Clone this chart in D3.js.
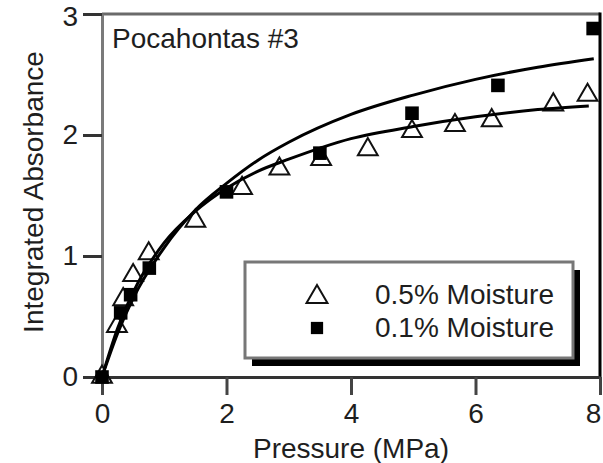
<!DOCTYPE html>
<html><head><meta charset="utf-8">
<script src="https://cdn.jsdelivr.net/npm/d3@7"></script>
<style>body{margin:0;background:#fff}svg{display:block}</style>
</head><body>
<svg id="c" width="603" height="463"></svg>
<script>
// ---- data ----
const xTickValues = [0, 2, 4, 6, 8];
const yTickValues = [0, 1, 2, 3];
const xLabel = "Pressure (MPa)";
const yLabel = "Integrated Absorbance";
const sampleName = "Pocahontas #3";
const seriesNames = ["0.5% Moisture", "0.1% Moisture"];

// 0.5% moisture (open triangles)
const triPressure   = [0, 0.24, 0.34, 0.50, 0.75, 1.50, 2.25, 2.85, 3.52, 4.27, 4.98, 5.67, 6.26, 7.25, 7.80];
const triAbsorbance = [0, 0.42, 0.64, 0.84, 1.02, 1.29, 1.56, 1.72, 1.80, 1.88, 2.03, 2.08, 2.12, 2.25, 2.33];
// 0.1% moisture (filled squares)
const sqPressure    = [0, 0.30, 0.46, 0.76, 2.00, 3.50, 4.98, 6.36, 7.89];
const sqAbsorbance  = [0, 0.53, 0.68, 0.90, 1.53, 1.85, 2.18, 2.41, 2.88];
// fitted curve through 0.5% data
const fit05Pressure   = [0, 0.25, 0.5, 1, 1.5, 2, 2.5, 3, 4, 5, 6, 7, 7.82];
const fit05Absorbance = [0, 0.40, 0.70, 1.11, 1.37, 1.56, 1.70, 1.80, 1.97, 2.07, 2.15, 2.21, 2.24];
// fitted curve through 0.1% data
const fit01Pressure   = [0, 0.25, 0.5, 1, 1.5, 2, 2.5, 3, 4, 5, 6, 7, 7.9];
const fit01Absorbance = [0, 0.36, 0.65, 1.07, 1.38, 1.60, 1.79, 1.94, 2.17, 2.33, 2.46, 2.56, 2.63];

// ---- chart ----
const svg = d3.select("#c");
const FONT = "Liberation Sans, Arial, sans-serif";
const FS = 28;
const TXT = "#1e1e1e";

const x = d3.scaleLinear().domain([0, 8]).range([102, 600]);
const y = d3.scaleLinear().domain([0, 3]).range([377, 14]);

// frame top & right
svg.append("line").attr("x1", x(0)).attr("x2", x(8)).attr("y1", y(3)).attr("y2", y(3))
  .attr("stroke", "#6a6a6a").attr("stroke-width", 3);
svg.append("line").attr("x1", x(8)).attr("x2", x(8)).attr("y1", y(3) - 1.5).attr("y2", y(0))
  .attr("stroke", "#000").attr("stroke-width", 3);

// axes
const gx = svg.append("g").attr("transform", `translate(0,${y(0)})`)
  .call(d3.axisBottom(x).tickValues(xTickValues).tickFormat(d3.format("d"))
        .tickSize(18).tickSizeOuter(0).tickPadding(8));
const gy = svg.append("g").attr("transform", `translate(${x(0)},0)`)
  .call(d3.axisLeft(y).tickValues(yTickValues).tickFormat(d3.format("d"))
        .tickSize(19).tickSizeOuter(0).tickPadding(5));
gx.select(".domain").attr("stroke", "#333").attr("stroke-width", 3);
gy.select(".domain").attr("stroke", "#7a7a7a").attr("stroke-width", 3);
gx.selectAll(".tick line").attr("stroke", "#444").attr("stroke-width", 3);
gy.selectAll(".tick line").attr("stroke", "#333").attr("stroke-width", 3);
[gx, gy].forEach(g => g.attr("font-family", FONT).attr("font-size", FS)
  .selectAll("text").attr("fill", TXT));
gx.selectAll(".tick text").filter(d => d === 8).attr("dx", -7);
gy.selectAll(".tick text").filter(d => d === 3).attr("dy", "0.42em");

// axis titles
svg.append("text").attr("x", (x(0) + x(8)) / 2).attr("y", 458)
  .attr("text-anchor", "middle").attr("font-family", FONT).attr("font-size", FS)
  .attr("fill", TXT).text(xLabel);
svg.append("text").attr("transform", "translate(43,192) rotate(-90)")
  .attr("text-anchor", "middle").attr("font-family", FONT).attr("font-size", FS)
  .attr("fill", TXT).text(yLabel);

// sample name
svg.append("text").attr("x", 112).attr("y", 48).attr("font-family", FONT)
  .attr("font-size", FS).attr("fill", TXT).text(sampleName);

// markers
const triSym = d3.symbol().type(d3.symbolTriangle).size(170);
const sqSym = d3.symbol().type(d3.symbolSquare).size(185);
const triData = triPressure.map((p, i) => [p, triAbsorbance[i]]);
const sqData = sqPressure.map((p, i) => [p, sqAbsorbance[i]]);

svg.append("g").selectAll("path").data(triData).join("path")
  .attr("d", triSym).attr("transform", d => `translate(${x(d[0])},${y(d[1])})`)
  .attr("fill", "#fff").attr("stroke", "#111").attr("stroke-width", 2);
svg.append("g").selectAll("path").data(sqData).join("path")
  .attr("d", sqSym).attr("transform", d => `translate(${x(d[0])},${y(d[1])})`)
  .attr("fill", "#000");

// fitted curves
const line = d3.line().x(d => x(d[0])).y(d => y(d[1])).curve(d3.curveMonotoneX);
const fit05 = fit05Pressure.map((p, i) => [p, fit05Absorbance[i]]);
const fit01 = fit01Pressure.map((p, i) => [p, fit01Absorbance[i]]);
[fit05, fit01].forEach(d => svg.append("path").datum(d).attr("d", line)
  .attr("fill", "none").attr("stroke", "#000").attr("stroke-width", 3));

// legend
const lg = svg.append("g");
const lx = 245, ly = 262, lw = 328, lh = 96;
lg.append("rect").attr("x", lx + 7).attr("y", ly + 8).attr("width", lw).attr("height", lh).attr("fill", "#000");
lg.append("rect").attr("x", lx).attr("y", ly).attr("width", lw).attr("height", lh)
  .attr("fill", "#fff").attr("stroke", "#777").attr("stroke-width", 3);
lg.append("path").attr("d", d3.symbol().type(d3.symbolTriangle).size(190))
  .attr("transform", "translate(317,297)").attr("fill", "#fff").attr("stroke", "#111").attr("stroke-width", 2);
lg.append("path").attr("d", d3.symbol().type(d3.symbolSquare).size(150))
  .attr("transform", "translate(317,328)").attr("fill", "#000");
lg.selectAll("text.l").data(seriesNames).join("text").attr("class", "l")
  .attr("x", 375).attr("y", (d, i) => 304 + i * 33)
  .attr("font-family", FONT).attr("font-size", FS).attr("fill", TXT).text(d => d);
</script>
</body></html>
